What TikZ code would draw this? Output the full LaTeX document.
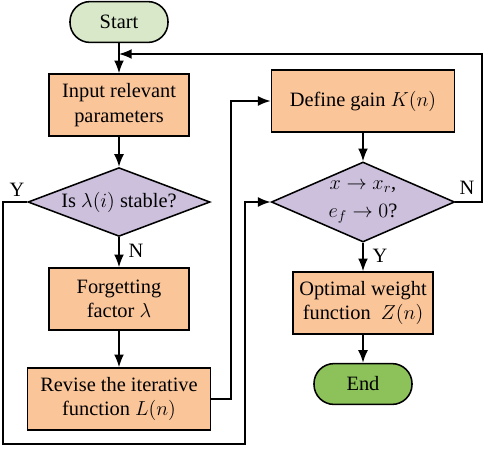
\documentclass[tikz,border=0pt]{standalone}
\usepackage{fontspec}
\setmainfont{Liberation Serif}
\usetikzlibrary{shapes.geometric,arrows.meta}

\definecolor{startgreen}{HTML}{D8E8C8}
\definecolor{endgreen}{HTML}{8DC25A}
\definecolor{boxorange}{HTML}{FBC59A}
\definecolor{decpurple}{HTML}{CCC0DD}

\tikzset{
    procbox/.style={draw, line width=1.1pt, fill=boxorange, minimum width=3.5cm, minimum height=1.55cm, align=center, inner sep=1pt},
    decision/.style={draw, line width=1.1pt, fill=decpurple, diamond, inner sep=0pt, align=center},
    terminal/.style={draw, line width=1.1pt, rounded corners=0.5cm, minimum width=2.45cm, minimum height=1.02cm},
    flow/.style={line width=1.1pt, -{Latex[length=9pt,width=7pt]}}
}

\begin{document}
\begin{tikzpicture}[x=0.025cm, y=-0.025cm, font=\fontsize{14.5}{17.5}\selectfont]
        \useasboundingbox (0,0) rectangle (484,449);

        % left column
        \node[terminal, fill=startgreen] (start) at (119,22) {Start};
        \node[procbox] (input) at (119,105) {Input relevant\\parameters};
        \node[decision, aspect=2.7, minimum width=4.55cm, minimum height=1.72cm] (stable) at (119,202) {Is $\lambda(i)$ stable?};
        \node[procbox] (forget) at (119,299) {Forgetting\\factor $\lambda$};
        \node[procbox, minimum width=4.58cm] (revise) at (119,399) {Revise the iterative\\function $L(n)$};

        % right column
        \node[procbox, minimum width=4.58cm] (gain) at (363,101) {Define gain $K(n)$};
        \node[decision, aspect=2.3, minimum width=4.58cm, minimum height=2cm] (conv) at (363,202) {$x \to x_r$,\\[2pt]$e_f \to 0$?};
        \node[procbox] (optimal) at (363,303) {Optimal weight\\function \ $Z(n)$};
        \node[terminal, fill=endgreen] (finish) at (363,384) {End};

        \coordinate (back) at (119,54);

        \draw[flow] (start) -- (input);
        \draw[flow] (input) -- (stable);
        \draw[flow] (stable) -- node[right=3pt, pos=0.45] {N} (forget);
        \draw[flow] (forget) -- (revise);
        \draw[flow] (gain) -- (conv);
        \draw[flow] (conv) -- node[right=3pt, pos=0.45] {Y} (optimal);
        \draw[flow] (optimal) -- (finish);

        \draw[flow] (stable.west) -- (3,202) -- (3,444) -- (245,444) -- (245,202) -- (conv.west);
        \node at (17,190) {Y};
        \draw[flow] (revise.east) -- (231,399) -- (231,101) -- (gain.west);
        \draw[flow] (conv.east) -- (482,202) -- (482,54) -- (back);
        \node at (467,188) {N};
    \end{tikzpicture}
\end{document}
